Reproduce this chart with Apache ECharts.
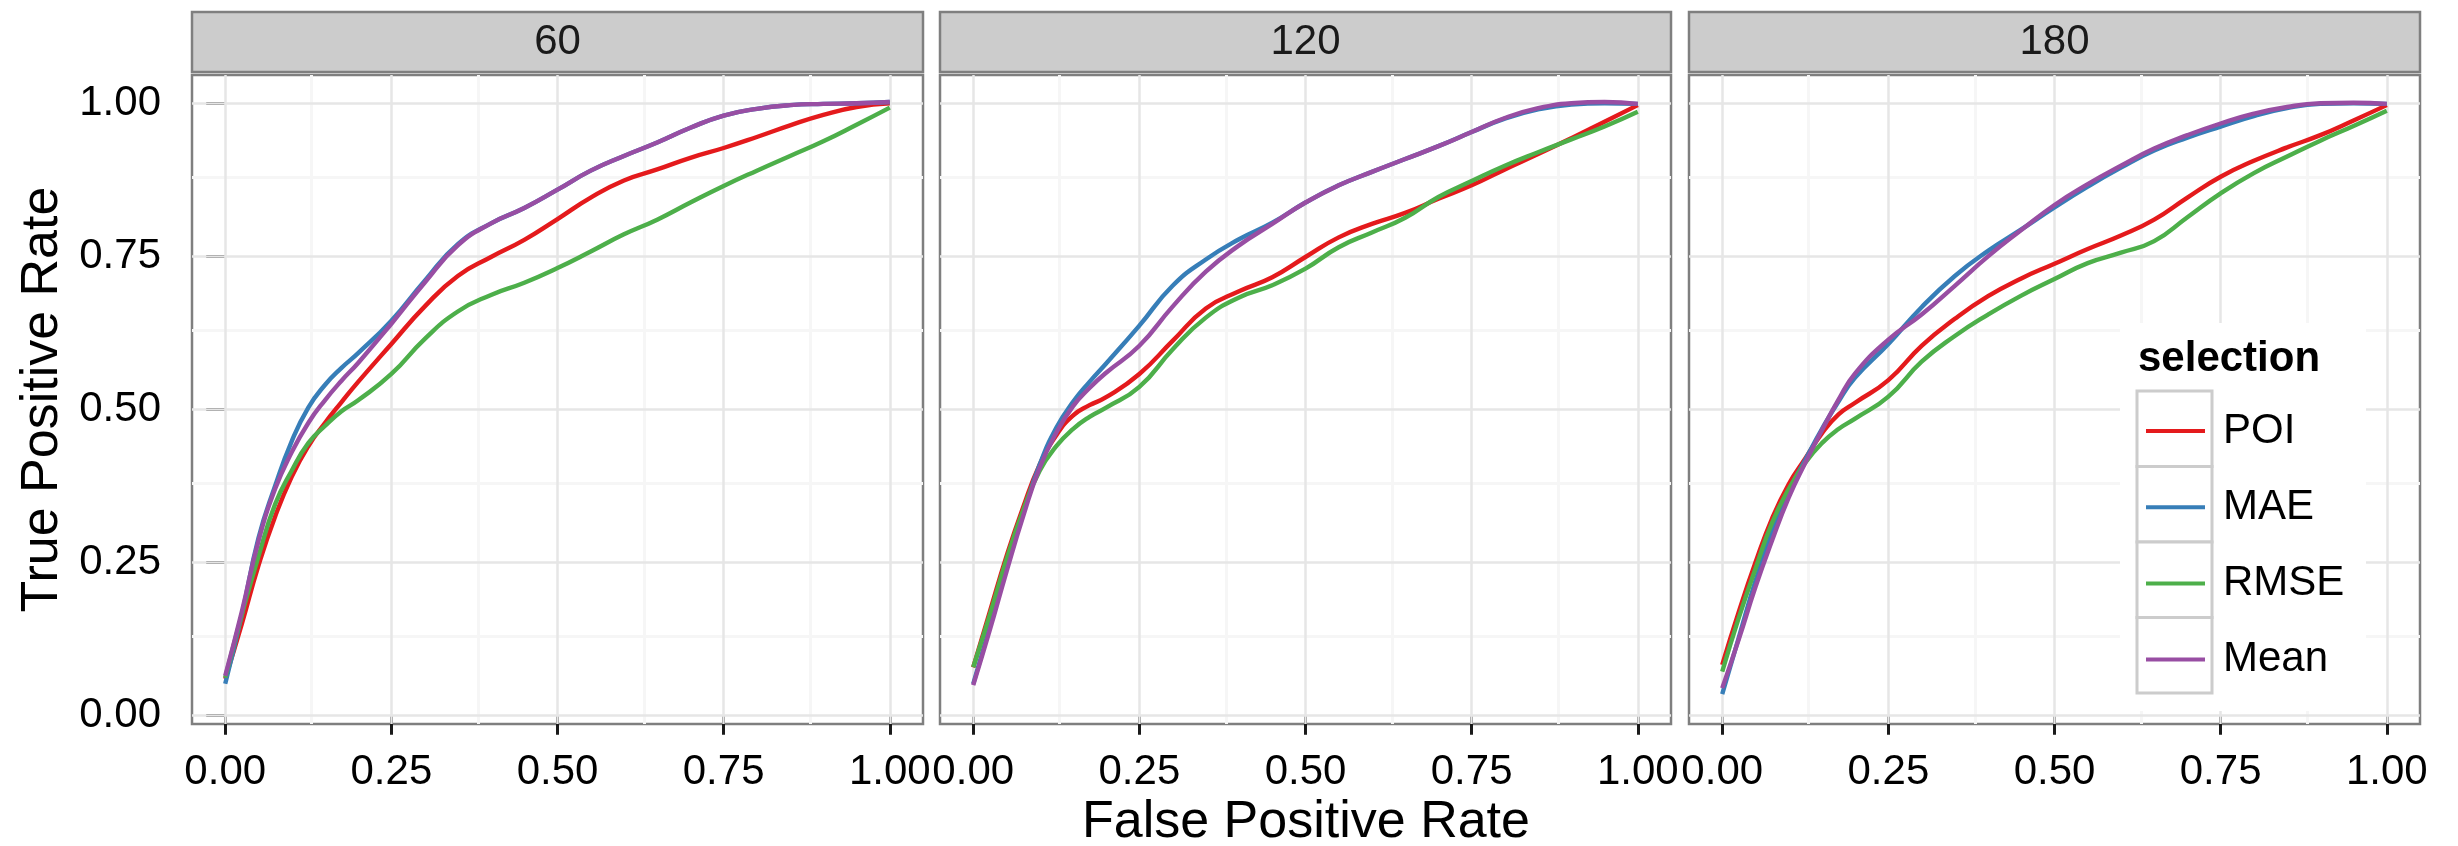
<!DOCTYPE html>
<html>
<head>
<meta charset="utf-8">
<script src="https://cdn.jsdelivr.net/npm/echarts@6/dist/echarts.min.js"></script>
</head>
<body style="margin:0;background:#fff">
<div id="main" style="width:2458px;height:846px"></div>
<script>
// false positive rate, shared x positions of every curve
var fpr = [0, 0.025, 0.05, 0.075, 0.1, 0.125, 0.15, 0.175, 0.2, 0.25, 0.3, 0.35, 0.4,
           0.45, 0.5, 0.55, 0.6, 0.65, 0.7, 0.75, 0.8, 0.85, 0.9, 0.95, 1.0];

var horizons = ['60', '120', '180'];
var methods = ['POI', 'MAE', 'RMSE', 'Mean'];
var colors = ['#E41A1C', '#377EB8', '#4DAF4A', '#984EA3'];

// true positive rate, panel 60
var poi60  = [0.060, 0.150, 0.245, 0.325, 0.390, 0.440, 0.478, 0.512, 0.545, 0.607, 0.668, 0.718, 0.749,
              0.777, 0.811, 0.846, 0.874, 0.892, 0.911, 0.927, 0.945, 0.964, 0.981, 0.994, 1.000];
var mae60  = [0.052, 0.165, 0.290, 0.375, 0.448, 0.503, 0.540, 0.568, 0.592, 0.645, 0.710, 0.770, 0.804,
              0.829, 0.859, 0.890, 0.914, 0.936, 0.960, 0.980, 0.991, 0.997, 0.999, 1.000, 1.002];
var rmse60 = [0.062, 0.165, 0.260, 0.345, 0.400, 0.445, 0.473, 0.497, 0.515, 0.558, 0.615, 0.660, 0.687,
              0.707, 0.731, 0.758, 0.786, 0.810, 0.838, 0.865, 0.890, 0.914, 0.938, 0.965, 0.993];
var mean60 = [0.065, 0.170, 0.285, 0.370, 0.430, 0.478, 0.515, 0.547, 0.576, 0.640, 0.707, 0.768, 0.804,
              0.829, 0.859, 0.890, 0.914, 0.936, 0.960, 0.980, 0.991, 0.997, 0.999, 1.000, 1.002];

// panel 120
var poi120  = [0.079, 0.170, 0.260, 0.340, 0.410, 0.458, 0.490, 0.507, 0.520, 0.558, 0.612, 0.665, 0.693,
               0.716, 0.749, 0.781, 0.803, 0.821, 0.844, 0.866, 0.892, 0.917, 0.943, 0.970, 0.997];
var mae120  = [0.052, 0.145, 0.240, 0.330, 0.410, 0.470, 0.512, 0.545, 0.575, 0.637, 0.702, 0.745, 0.778,
               0.805, 0.838, 0.866, 0.888, 0.909, 0.930, 0.953, 0.975, 0.990, 0.998, 1.000, 0.999];
var rmse120 = [0.079, 0.165, 0.255, 0.335, 0.400, 0.440, 0.468, 0.488, 0.503, 0.537, 0.598, 0.650, 0.683,
               0.703, 0.730, 0.765, 0.789, 0.813, 0.847, 0.873, 0.898, 0.920, 0.941, 0.962, 0.986];
var mean120 = [0.050, 0.140, 0.235, 0.325, 0.405, 0.462, 0.505, 0.535, 0.560, 0.604, 0.668, 0.725, 0.768,
               0.803, 0.838, 0.866, 0.888, 0.909, 0.930, 0.953, 0.976, 0.992, 1.000, 1.002, 0.999];

// panel 180
var poi180  = [0.083, 0.170, 0.250, 0.322, 0.378, 0.420, 0.461, 0.492, 0.511, 0.548, 0.604, 0.648, 0.685,
               0.714, 0.738, 0.762, 0.784, 0.810, 0.846, 0.880, 0.906, 0.928, 0.948, 0.972, 0.997];
var mae180  = [0.035, 0.128, 0.220, 0.300, 0.367, 0.418, 0.468, 0.513, 0.552, 0.607, 0.667, 0.718, 0.759,
               0.794, 0.830, 0.864, 0.895, 0.923, 0.944, 0.962, 0.979, 0.992, 0.999, 1.000, 0.999];
var rmse180 = [0.072, 0.160, 0.240, 0.315, 0.370, 0.413, 0.445, 0.468, 0.485, 0.521, 0.578, 0.620, 0.655,
               0.686, 0.713, 0.739, 0.756, 0.775, 0.814, 0.853, 0.886, 0.913, 0.939, 0.963, 0.988];
var mean180 = [0.045, 0.125, 0.210, 0.286, 0.356, 0.413, 0.466, 0.516, 0.559, 0.614, 0.655, 0.702, 0.750,
               0.793, 0.834, 0.868, 0.898, 0.926, 0.948, 0.967, 0.983, 0.994, 1.000, 1.001, 0.999];

var ticks = [0, 0.25, 0.5, 0.75, 1];
var minorTicks = [0.125, 0.375, 0.625, 0.875];

var tpr = [
  [poi60, mae60, rmse60, mean60],
  [poi120, mae120, rmse120, mean120],
  [poi180, mae180, rmse180, mean180]
];

var FONT = '"Liberation Sans", Arial, Helvetica, sans-serif';
var panelLeft = [192, 940, 1689];
var panelW = 731, panelTop = 75, panelH = 649;
var stripTop = 12, stripH = 60;

var chart = echarts.init(document.getElementById('main'), null, {renderer: 'canvas'});

var grids = [], xAxes = [], yAxes = [], series = [], graphics = [];

function fmt(v) { return v.toFixed(2); }

horizons.forEach(function (h, i) {
  grids.push({
    left: panelLeft[i], top: panelTop, width: panelW, height: panelH,
    show: true, backgroundColor: '#fff', borderColor: '#7F7F7F', borderWidth: 2.5,
    containLabel: false, outerBoundsMode: 'none'
  });
  xAxes.push({
    type: 'value', gridIndex: i, min: -0.05, max: 1.05,
    axisLine: {show: false},
    splitLine: {show: false},
    axisTick: {customValues: ticks, length: 19, lineStyle: {color: '#1a1a1a', width: 3}},
    axisLabel: {customValues: ticks, formatter: fmt, margin: 27, fontSize: 42,
                color: '#000', fontFamily: FONT}
  });
  yAxes.push({
    type: 'value', gridIndex: i, min: -0.0136, max: 1.0462,
    axisLine: {show: false},
    splitLine: {show: false},
    axisTick: {show: i === 0, customValues: ticks, length: 19, lineStyle: {color: '#1a1a1a', width: 3}},
    axisLabel: {show: i === 0, customValues: ticks, formatter: fmt, margin: 31, fontSize: 42,
                color: '#000', fontFamily: FONT}
  });

  // panel grid lines, drawn under the curves
  var lines = [];
  minorTicks.forEach(function (v) {
    lines.push({xAxis: v, lineStyle: {color: '#F6F6F6', width: 3}});
    lines.push({yAxis: v, lineStyle: {color: '#F6F6F6', width: 3}});
  });
  ticks.forEach(function (v) {
    lines.push({xAxis: v, lineStyle: {color: '#E6E6E6', width: 2.5}});
    lines.push({yAxis: v, lineStyle: {color: '#E6E6E6', width: 2.5}});
  });
  series.push({
    type: 'line', name: 'grid' + h, xAxisIndex: i, yAxisIndex: i, data: [],
    silent: true, animation: false, z: 1,
    markLine: {z: 1, silent: true, animation: false, symbol: ['none', 'none'],
               label: {show: false}, lineStyle: {type: 'solid'}, data: lines}
  });

  methods.forEach(function (m, j) {
    series.push({
      type: 'line', name: m, xAxisIndex: i, yAxisIndex: i,
      data: fpr.map(function (x, k) { return [x, tpr[i][j][k]]; }),
      symbol: 'none', showSymbol: false, smooth: 0.5,
      lineStyle: {color: colors[j], width: 4.4},
      itemStyle: {color: colors[j]},
      silent: true, animation: false, z: 2
    });
  });

  // facet strip
  graphics.push({
    type: 'rect', z: 2,
    shape: {x: panelLeft[i], y: stripTop, width: panelW, height: stripH},
    style: {fill: '#CCCCCC', stroke: '#7F7F7F', lineWidth: 2.5}
  });
  graphics.push({
    type: 'text', z: 3, x: panelLeft[i] + panelW / 2, y: stripTop + stripH / 2,
    style: {text: h, fontSize: 42, fontFamily: FONT, fill: '#1a1a1a',
            align: 'center', verticalAlign: 'middle'}
  });
});

// axis titles
graphics.push({
  type: 'text', z: 3, x: 43, y: panelTop + panelH / 2, rotation: Math.PI / 2,
  style: {text: 'True Positive Rate', fontSize: 52, fontFamily: FONT, fill: '#000',
          align: 'center', verticalAlign: 'middle'}
});
graphics.push({
  type: 'text', z: 3, x: (panelLeft[0] + panelLeft[2] + panelW) / 2, y: 823,
  style: {text: 'False Positive Rate', fontSize: 52, fontFamily: FONT, fill: '#000',
          align: 'center', verticalAlign: 'middle'}
});

// legend box, key frames and title
graphics.push({
  type: 'rect', z: 3, z2: 0,
  shape: {x: 2120, y: 323, width: 246, height: 388},
  style: {fill: '#fff'}
});
methods.forEach(function (m, k) {
  graphics.push({
    type: 'rect', z: 3, z2: 1,
    shape: {x: 2137, y: 391 + k * 75.5, width: 75, height: 75.5},
    style: {fill: '#fff', stroke: '#CCCCCC', lineWidth: 3}
  });
});
graphics.push({
  type: 'text', z: 4, x: 2138, y: 359,
  style: {text: 'selection', fontSize: 42, fontWeight: 'bold', fontFamily: FONT, fill: '#000',
          align: 'left', verticalAlign: 'middle'}
});

var option = {
  backgroundColor: '#fff',
  animation: false,
  grid: grids,
  xAxis: xAxes,
  yAxis: yAxes,
  series: series,
  legend: {
    data: methods, orient: 'vertical', left: 2146, top: 410, padding: 0,
    icon: 'rect', itemWidth: 59, itemHeight: 4, itemGap: 34.2, selectedMode: false, z: 10,
    textStyle: {fontSize: 42, color: '#000', fontFamily: FONT, padding: [0, 0, 0, 13]}
  },
  graphic: {elements: graphics}
};

chart.setOption(option);
</script>
</body>
</html>
